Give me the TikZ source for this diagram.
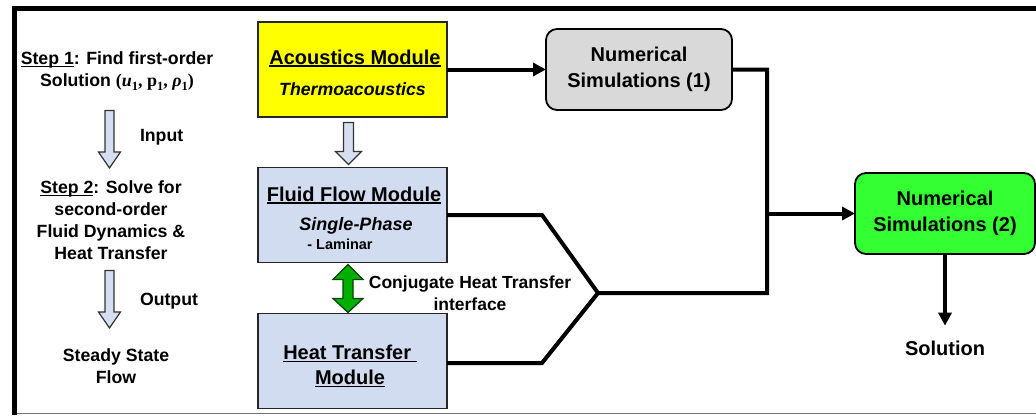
\documentclass[tikz,border=0pt]{standalone}
\usepackage[no-math]{fontspec}
\setmainfont{Liberation Sans}
\newfontfamily\sermath{Liberation Serif}
\usetikzlibrary{arrows.meta,calc}
\definecolor{acyellow}{HTML}{FFFF00}
\definecolor{modblue}{HTML}{D2DCF0}
\definecolor{arrblue}{HTML}{D6DFF1}
\definecolor{dgreen}{HTML}{00B000}
\definecolor{simgray}{HTML}{D9D9D9}
\definecolor{simgreen}{HTML}{33FF33}
\newcommand\myul[1]{\setbox0\hbox{#1}\rlap{\rule[-2.6pt]{\wd0}{1.3pt}}\box0}
\newcommand\fs[2]{\fontsize{#1}{#2}\selectfont}
\newcommand\subidx[1]{\raisebox{-0.22em}{\fontsize{12.5}{12.5}\selectfont #1}}
\newcommand\blockdown[5]{%
  \draw[hollow] ($(#1)+(-#3,0)$) -- ($(#1)+(#3,0)$) -- ($(#2)+(#3,-#5)$) -- ($(#2)+(#4,-#5)$) -- (#2) -- ($(#2)+(-#4,-#5)$) -- ($(#2)+(-#3,-#5)$) -- cycle;}
\begin{document}
\begin{tikzpicture}[x=1pt,y=-1pt,
  every node/.style={font=\bfseries, inner sep=0pt, outer sep=0pt},
  modbox/.style={draw=black!85, line width=1.5pt, minimum width=189pt, minimum height=95pt},
  simbox/.style={draw=black, line width=1.8pt, rounded corners=11pt, align=center, font=\bfseries\fs{20}{26.5}},
  conn/.style={line width=4pt, line join=miter},
  endtri/.style={-{Triangle[length=13pt,width=13pt]}},
  hollow/.style={draw=black!80, line width=1.2pt, fill=arrblue, line join=miter},
  lefttext/.style={font=\bfseries\fs{17.7}{22}, align=center},
]
\useasboundingbox (0,0) rectangle (1036,415);
% frame
\draw[line width=5pt, line join=miter] (14.5,415) -- (14.5,8.5) -- (1036,8.5);
\draw[black!55, line width=1pt] (17,413.5) -- (1036,413.5);

% left column
\node[lefttext] (step1) at (117,71) {\myul{Step 1}: Find first-order\\Solution {\sermath\fs{18}{22}(\textit{u}\subidx{1}, p\subidx{1}, \textit{ρ}\subidx{1})}};
\node[lefttext] (step2) at (111,220) {\myul{Step 2}: Solve for\\second-order\\Fluid Dynamics \&\\Heat Transfer};
\node[lefttext] (steady) at (116,366) {Steady State\\Flow};
\node[lefttext, anchor=west] (input) at (140,137.7) {Input};
\node[lefttext, anchor=west] (output) at (140,300.7) {Output};
\coordinate (la1s) at (109.5,110.5);
\coordinate (la1e) at (109.5,168);
\coordinate (la2s) at (109.5,270.5);
\coordinate (la2e) at (109.5,328);
\blockdown{la1s}{la1e}{4.5}{11}{16}
\blockdown{la2s}{la2e}{4.5}{11}{16}

% module boxes
\node[modbox, fill=acyellow] (acou) at (352.5,69.5) {};
\node[modbox, fill=modblue] (fluid) at (352.5,215) {};
\node[modbox, fill=modblue] (heat) at (352.5,361) {};
\node[font=\bfseries\fs{20}{24}, anchor=base] (acout) at (355,64) {\myul{Acoustics Module}};
\node[font=\bfseries\itshape\fs{17.7}{21}, anchor=base] (thermo) at (352.5,95) {Thermoacoustics};
\node[font=\bfseries\fs{20}{24}, anchor=base] (fluidt) at (354,201) {\myul{Fluid Flow Module}};
\node[font=\bfseries\itshape\fs{18}{22}, anchor=base] (single) at (356,230.5) {Single-Phase};
\node[font=\bfseries\fs{14.5}{18}, anchor=base] (lam) at (340,249) {- Laminar};
\node[font=\bfseries\fs{20}{25}, align=center] (heatt) at (350,366) {\myul{Heat Transfer~}\\\myul{Module}};

% arrow acoustics -> fluid
\coordinate (ma1s) at ($(acou.south)+(-4,5.5)$);
\coordinate (ma1e) at ($(fluid.north)+(-4,-3)$);
\blockdown{ma1s}{ma1e}{5}{13}{13}

% green double arrow
\coordinate (g1) at ($(fluid.south)+(-4.5,2)$);
\coordinate (g2) at ($(heat.north)+(-4.5,-1)$);
\draw[fill=dgreen, draw=black!75!green, line width=1.2pt, line join=miter]
  (g1) -- ($(g1)+(15,15)$) -- ($(g1)+(5,15)$) -- ($(g2)+(5,-14)$) -- ($(g2)+(15,-14)$) -- (g2)
  -- ($(g2)+(-15,-14)$) -- ($(g2)+(-5,-14)$) -- ($(g1)+(-5,15)$) -- ($(g1)+(-15,15)$) -- cycle;
\node[font=\bfseries\fs{17.5}{22}, align=center] (conj) at (470,293) {Conjugate Heat Transfer\\interface};

% simulation boxes
\node[simbox, fill=simgray, minimum width=186pt, minimum height=81pt] (num1) at (639,69.5) {Numerical\\Simulations (1)};
\node[simbox, fill=simgreen, minimum width=180pt, minimum height=81pt] (num2) at (945,213.5) {Numerical\\Simulations (2)};
\node[font=\bfseries\fs{20}{24}] (sol) at (945,348) {Solution};

% connectors
\coordinate (j) at (598,293);
\coordinate (k) at (767,293);
\draw[conn] (fluid.east) -- (542,215) -- (j) -- (k) -- (k |- num1.east) -- (num1.east);
\draw[conn] ($(heat.east)+(0,2)$) -- (542,363) -- (j);
\draw[conn, endtri] (k |- num2.west) -- (num2.west);
\draw[conn, endtri] (acou.east) -- (num1.west);
\draw[conn, endtri] (num2.south) -- ([yshift=15pt]sol.north);
\end{tikzpicture}
\end{document}
